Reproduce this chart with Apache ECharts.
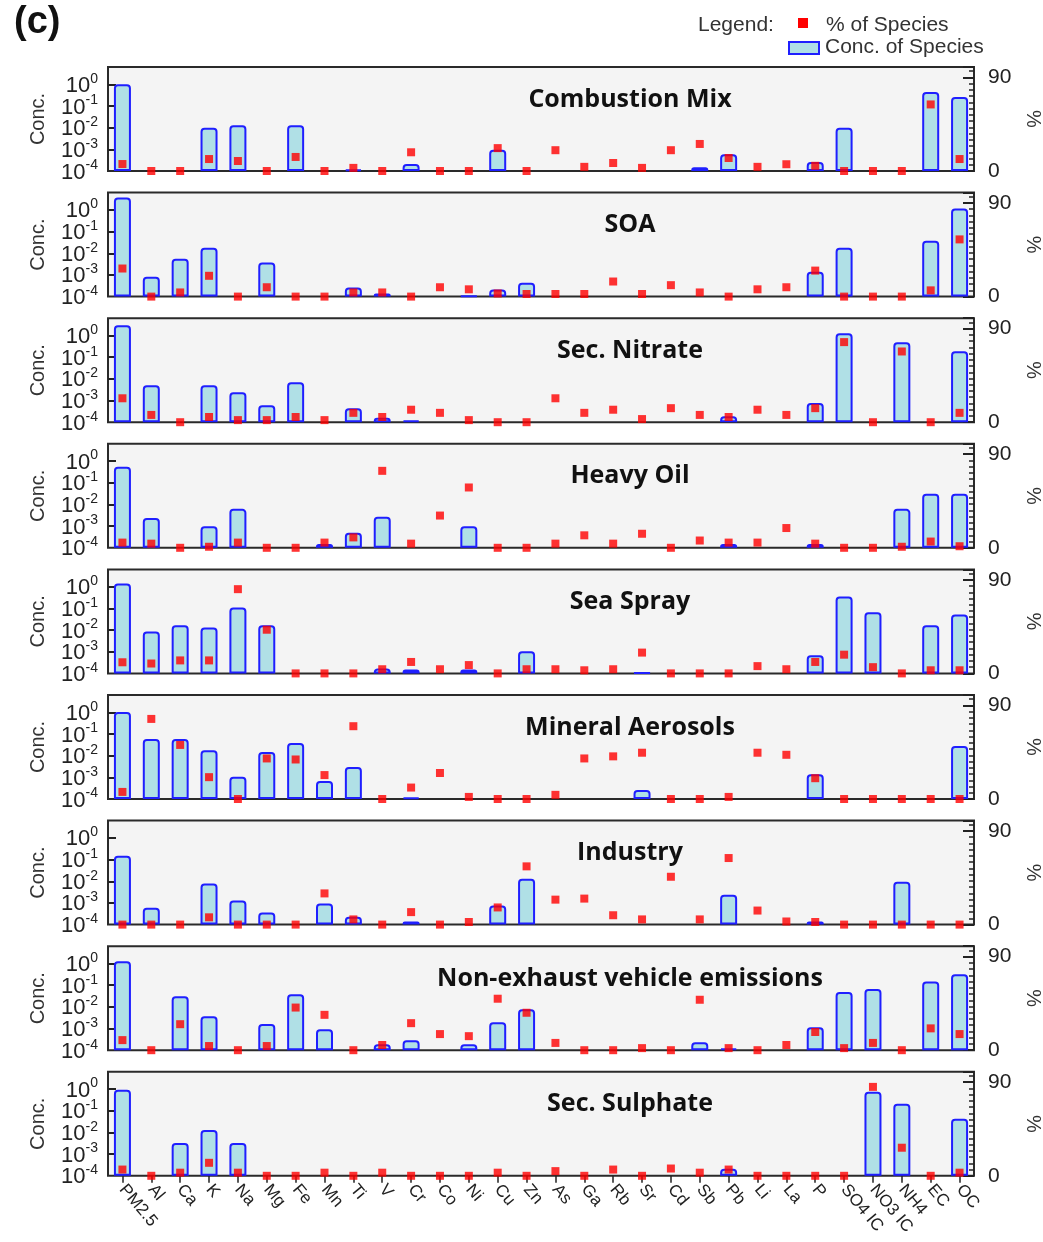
<!DOCTYPE html>
<html>
<head>
<meta charset="utf-8">
<script src="https://cdn.jsdelivr.net/npm/echarts@6/dist/echarts.min.js"></script>
<style>
  html, body { margin: 0; padding: 0; background: #ffffff; }
  #chart { width: 1043px; height: 1242px; }
</style>
</head>
<body>
<div id="chart"></div>
<script>
// Species on the category axis
const categories = ['PM2.5', 'Al', 'Ca', 'K', 'Na', 'Mg', 'Fe', 'Mn', 'Ti', 'V', 'Cr', 'Co', 'Ni', 'Cu', 'Zn',
  'As', 'Ga', 'Rb', 'Sr', 'Cd', 'Sb', 'Pb', 'Li', 'La', 'P', 'SO4 IC', 'NO3 IC', 'NH4', 'EC', 'OC'];

// Factor names, one panel each
const factorNames = ['Combustion Mix', 'SOA', 'Sec. Nitrate', 'Heavy Oil', 'Sea Spray',
  'Mineral Aerosols', 'Industry', 'Non-exhaust vehicle emissions', 'Sec. Sulphate'];

// Right-axis labels that are printed
const pctTickLabels = [0, 90];

// Concentration of species (log axis) and % of species (linear axis) per factor
const concCombustionMix = [1.0, null, null, 0.010, 0.013, null, 0.013, null, 1.2e-4, null, 2.1e-4, null, null, 9.5e-4, null,
  null, null, null, null, null, 1.5e-4, 6e-4, null, null, 2.6e-4, 0.010, null, null, 0.44, 0.26];
const pctCombustionMix = [6.7, 0, 0, 11.5, 9.6, 0, 13.5, 0, 3, 0, 18, 0, 0, 22, 0,
  20, 4, 7.7, 3, 20, 26, 12.5, 4, 6.5, 5, 0, 0, 0, 64, 11.5];

const concSOA = [3.7, 8.3e-4, 5.6e-3, 0.018, null, 3.7e-3, null, null, 2.6e-4, 1.4e-4, null, null, 1.1e-4, 2.1e-4, 4.4e-4,
  null, null, null, null, null, null, null, null, null, 1.4e-3, 0.018, null, null, 0.038, 1.15];
const pctSOA = [27, 0, 4, 20, 0, 9, 0, 0, 4, 4, 0, 9, 7, 3, 2.5,
  2.5, 2.5, 14.5, 2.5, 11, 4, 0, 7, 9, 25, 0, 0, 0, 6, 55];

const concSecNitrate = [3.0, 5.1e-3, null, 5.1e-3, 2.4e-3, 6e-4, 7e-3, null, 4.4e-4, 1.6e-4, 1.2e-4, null, null, null, null,
  null, null, null, null, null, null, 1.9e-4, null, null, 7.6e-4, 1.28, null, 0.49, null, 0.19];
const pctSecNitrate = [23, 7, 0, 5, 2, 2, 5, 2, 9, 5, 12, 9, 2, 0, 0,
  23, 9, 12, 3, 13.5, 7, 5, 12, 7, 13.5, 77, 0, 68, 0, 9];

const concHeavyOil = [0.55, 2.4e-3, null, 1.0e-3, 6.3e-3, null, null, 1.5e-4, 4.9e-4, 2.7e-3, null, null, 1.0e-3, null, null,
  null, null, null, null, null, null, 1.5e-4, null, null, 1.5e-4, null, null, 6.3e-3, 0.031, 0.031];
const pctHeavyOil = [5, 4, 0, 1, 5, 0, 0, 5, 10, 74, 4, 31, 58, 0, 0,
  4, 12, 4, 13.5, 0, 7, 5, 5, 19, 4, 0, 0, 1, 6, 1.5];

const concSeaSpray = [1.4, 8.7e-3, 0.0165, 0.0133, 0.11, 0.0165, null, null, null, 1.7e-4, 1.5e-4, null, 1.5e-4, null, 1.05e-3,
  null, null, null, 1.1e-4, null, null, null, null, null, 6.8e-4, 0.35, 0.066, null, 0.0165, 0.052];
const pctSeaSpray = [10.7, 9.5, 12.5, 12.5, 81, 42, 0, 0, 0, 4, 11, 4, 8, 0, 4,
  4, 3, 4, 20, 0, 0, 0, 7, 4, 11, 18, 6, 0, 3, 3];

const concMineral = [1.03, 0.059, 0.059, 0.018, 1.05e-3, 0.0148, 0.038, 6.8e-4, 3.0e-3, null, 1.2e-4, null, null, null, null,
  null, null, null, 2.6e-4, null, null, null, null, null, 1.4e-3, null, null, null, null, 0.028];
const pctMineral = [6.8, 77, 52, 21, 0, 39, 38, 23, 70, 0, 11, 25, 2, 0, 0,
  4, 39, 41, 44.5, 0, 0, 2, 44.5, 42.5, 20, 0, 0, 0, 0, 0];

const concIndustry = [0.15, 6e-4, null, 7.8e-3, 1.3e-3, 3.6e-4, null, 9.3e-4, 2.3e-4, null, 1.4e-4, null, null, 7.6e-4, 0.013,
  null, null, null, null, null, null, 2.4e-3, null, null, 1.4e-4, null, null, 9.6e-3, null, null];
const pctIndustry = [0, 0, 0, 7, 0, 0, 0, 30, 5, 0, 12, 0, 2.5, 16.5, 56,
  24, 25, 9, 5, 46, 5, 64, 13.5, 3, 2.5, 0, 0, 0, 0, 0];

const concNonExhaust = [1.28, null, 0.031, 3.7e-3, null, 1.6e-3, 0.038, 9.3e-4, null, 1.9e-4, 2.9e-4, null, 1.9e-4, 1.95e-3, 7.8e-3,
  null, null, null, null, null, 2.3e-4, 1.2e-4, null, null, 1.15e-3, 0.048, 0.066, null, 0.15, 0.32];
const pctNonExhaust = [9.7, 0, 25, 4, 0, 4, 41, 34, 0, 5, 26, 15.5, 13.5, 49.5, 36,
  7, 0, 0, 2, 0, 48.5, 2, 0, 5, 17.5, 2, 7, 0, 21, 15.5];

const concSecSulphate = [0.93, null, 3.3e-3, 0.013, 3.3e-3, null, null, null, null, null, null, null, null, null, null,
  null, null, null, null, null, null, 2.1e-4, null, null, null, null, 0.76, 0.21, null, 0.043];
const pctSecSulphate = [6, 0, 3, 12.5, 3, 0, 0, 3, 0, 3, 0, 0, 0, 3, 0,
  4.5, 0, 6, 0, 7, 3, 6, 0, 0, 0, 0, 85.5, 27, 0, 3];

const factorConc = [concCombustionMix, concSOA, concSecNitrate, concHeavyOil, concSeaSpray,
  concMineral, concIndustry, concNonExhaust, concSecSulphate];
const factorPct = [pctCombustionMix, pctSOA, pctSecNitrate, pctHeavyOil, pctSeaSpray,
  pctMineral, pctIndustry, pctNonExhaust, pctSecSulphate];

// Layout of the stacked panels
const PANEL_TOP = 67;
const PANEL_STEP = 125.6;
const PANEL_H = 104;
const PLOT_LEFT = 108;
const PLOT_WIDTH = 866;
const CONC_MIN = 1e-4;
const CONC_MAX = Math.pow(10, 0.8);
const FONT = '"Liberation Sans", Arial, sans-serif';
const INK = '#222';

// "10" with a raised exponent, only for whole powers of ten
const powerLabel = (v, wanted) => {
  const e = Math.log10(v);
  const r = Math.round(e);
  if (Math.abs(e - r) > 0.01 || !wanted(r)) return '';
  return '{b|10}{s|' + r + '}';
};
const powerRich = {
  b: { fontFamily: FONT, fontSize: 22, color: INK, verticalAlign: 'bottom', lineHeight: 25 },
  s: { fontFamily: FONT, fontSize: 14, color: INK, verticalAlign: 'top', lineHeight: 25 }
};

const grids = [], xAxes = [], yAxes = [], series = [], titles = [];
const last = factorNames.length - 1;

factorNames.forEach((name, i) => {
  const top = PANEL_TOP + PANEL_STEP * i;
  grids.push({
    left: PLOT_LEFT, top: top, width: PLOT_WIDTH, height: PANEL_H,
    show: true, backgroundColor: '#f4f4f4', borderColor: '#2a2a2a', borderWidth: 2,
    outerBoundsMode: 'none', containLabel: false
  });
  titles.push({
    text: name, left: 625, top: top + 15, textAlign: 'center',
    textStyle: { fontFamily: '"Open Sans", sans-serif', fontWeight: 'bold', fontSize: 25, color: '#111' }
  });
  xAxes.push({
    type: 'category', gridIndex: i, data: categories, boundaryGap: true,
    axisLine: { show: false },
    axisTick: { show: i === last, alignWithLabel: true, interval: 0, length: 7, lineStyle: { color: INK, width: 1.5 } },
    axisLabel: {
      show: i === last, interval: 0, rotate: -50, margin: 11,
      fontFamily: FONT, fontSize: 17, color: INK
    },
    splitLine: { show: false }
  });
  // left: concentration on a log scale (10^-3 ... 10^0 labels and ticks)
  yAxes.push({
    type: 'log', logBase: 10, gridIndex: i, position: 'left', min: CONC_MIN, max: CONC_MAX, startValue: CONC_MIN,
    name: 'Conc.', nameLocation: 'middle', nameGap: 60, nameRotate: 90,
    nameTextStyle: { fontFamily: FONT, fontSize: 20, color: '#333' },
    axisLine: { show: false },
    axisTick: { show: true, inside: true, length: 8, lineStyle: { color: INK, width: 2 } },
    splitLine: { show: false },
    axisLabel: {
      margin: 10, showMaxLabel: false, showMinLabel: false,
      formatter: v => powerLabel(v, r => r > -4), rich: powerRich
    }
  });
  // left: same scale, carrying only the bottom 10^-4 label
  yAxes.push({
    type: 'log', logBase: 10, gridIndex: i, position: 'left', min: CONC_MIN, max: CONC_MAX,
    axisLine: { show: false }, axisTick: { show: false }, splitLine: { show: false },
    axisLabel: {
      margin: 10, showMaxLabel: false, showMinLabel: true,
      formatter: v => powerLabel(v, r => r === -4), rich: powerRich
    }
  });
  // right: % of species
  yAxes.push({
    type: 'value', gridIndex: i, position: 'right', min: 0, max: 100, interval: 6,
    name: '%', nameLocation: 'middle', nameGap: 42, nameRotate: -90,
    nameTextStyle: { fontFamily: FONT, fontSize: 20, color: '#333' },
    axisLine: { show: false },
    axisTick: { show: true, inside: true, length: 5, lineStyle: { color: INK, width: 1.5 } },
    splitLine: { show: false },
    axisLabel: {
      margin: 14, fontFamily: FONT, fontSize: 21, color: INK,
      formatter: v => (pctTickLabels.indexOf(v) >= 0 ? String(v) : '')
    }
  });
  // right: the longer tick marking 90 %
  yAxes.push({
    type: 'value', gridIndex: i, position: 'right', min: 0, max: 100, interval: 90,
    axisLine: { show: false },
    axisTick: { show: true, inside: true, length: 11, lineStyle: { color: INK, width: 2 } },
    axisLabel: { show: false },
    splitLine: { show: false }
  });

  series.push({
    name: 'Conc. of Species', type: 'bar', xAxisIndex: i, yAxisIndex: 4 * i,
    data: factorConc[i], barWidth: 17,
    itemStyle: { color: '#b0e0e6', borderColor: '#1f1fff', borderWidth: 2, borderRadius: [3, 3, 0, 0] },
    z: 2
  });
  series.push({
    name: '% of Species', type: 'scatter', xAxisIndex: i, yAxisIndex: 4 * i + 2,
    data: factorPct[i], symbol: 'rect', symbolSize: 8, clip: false,
    itemStyle: { color: '#ff0000' },
    z: 4
  });
});

const chart = echarts.init(document.getElementById('chart'), null, { renderer: 'canvas' });
chart.setOption({
  animation: false,
  backgroundColor: '#ffffff',
  textStyle: { fontFamily: FONT },
  title: titles,
  grid: grids,
  xAxis: xAxes,
  yAxis: yAxes,
  series: series,
  graphic: [
    { type: 'text', left: 14, top: 4, style: { text: '(c)', font: 'bold 38px "Liberation Sans", Arial', fill: '#111' } },
    { type: 'text', left: 698, top: 15, style: { text: 'Legend:', font: '21px "Liberation Sans", Arial', fill: '#333' } },
    { type: 'rect', left: 798, top: 18, shape: { width: 10, height: 10 }, style: { fill: '#ff0000' } },
    { type: 'text', left: 826, top: 15, style: { text: '% of Species', font: '21px "Liberation Sans", Arial', fill: '#333' } },
    { type: 'rect', left: 788, top: 41, shape: { width: 30, height: 12 }, style: { fill: '#b0e0e6', stroke: '#1f1fff', lineWidth: 2 } },
    { type: 'text', left: 825, top: 37, style: { text: 'Conc. of Species', font: '21px "Liberation Sans", Arial', fill: '#333' } }
  ]
});
</script>
</body>
</html>
